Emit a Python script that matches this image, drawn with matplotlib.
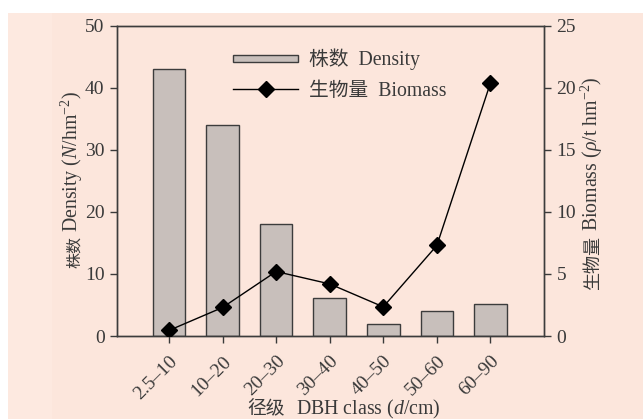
import matplotlib
matplotlib.use("Agg")
import matplotlib.pyplot as plt
import matplotlib.patches as mpatches
from matplotlib.lines import Line2D
from matplotlib.legend_handler import HandlerPatch
import numpy as np

categories = ["2.5–10", "10–20", "20–30", "30–40", "40–50", "50–60", "60–90"]
density = [43.0, 34.0, 18.0, 6.2, 2.0, 4.1, 5.1]
biomass = [0.45, 2.3, 5.2, 4.2, 2.35, 7.3, 20.4]

plt.rcParams['font.family'] = ['Liberation Serif', 'Noto Sans CJK SC']
plt.rcParams['mathtext.fontset'] = 'custom'
plt.rcParams['mathtext.rm'] = 'Liberation Serif'
plt.rcParams['mathtext.it'] = 'Liberation Serif:italic'

W, H = 643, 419
txt = '#3a3a3a'
pink = '#fce6dc'
pink_light = '#fde9e0'
barc = '#c8bfbb'
edge = '#3c3c3c'
CJK = 'Noto Sans CJK SC'

fig = plt.figure(figsize=(W / 100, H / 100), dpi=100)
fig.patch.set_facecolor('white')

def fx(px):
    return px / W

def fy(py):
    return (H - py) / H

fig.patches.append(mpatches.Rectangle((fx(8), 0), 1, (H - 13) / H, transform=fig.transFigure,
                                      facecolor=pink, edgecolor='none', zorder=-10))
fig.patches.append(mpatches.Rectangle((fx(8), 0), (52 - 8) / W, (H - 13) / H, transform=fig.transFigure,
                                      facecolor=pink_light, edgecolor='none', zorder=-9))

ax = fig.add_axes([fx(117), fy(336), (544 - 117) / W, (336 - 26) / H])
ax.set_facecolor('none')
x = np.arange(len(categories))
ax.bar(x, density, width=0.61, color=barc, edgecolor=edge, linewidth=1.0, zorder=2)
ax.set_xlim(-0.97, 7.0)
ax.set_ylim(0, 50)
ax.set_yticks([0, 10, 20, 30, 40, 50])
ax.set_xticks(x)
ax.set_xticklabels(categories, rotation=45, ha='right', va='top', rotation_mode='anchor',
                   fontsize=14, color=txt)
ax.tick_params(axis='y', labelsize=14, colors=txt, direction='out', length=5, width=1, pad=4)
ax.tick_params(axis='x', colors=txt, direction='out', length=5, width=1, pad=7)
for s in ax.spines.values():
    s.set_color(edge)
    s.set_linewidth(1.0)

ax2 = ax.twinx()
ax2.set_ylim(0, 25)
ax2.set_yticks([0, 5, 10, 15, 20, 25])
ax2.plot(x, biomass, color='black', linewidth=1.0, marker='D', markersize=8,
         markerfacecolor='black', markeredgecolor='black', zorder=3)
ax2.tick_params(axis='y', labelsize=14, colors=txt, direction='out', length=5, width=1, pad=4)
for s in ax2.spines.values():
    s.set_color(edge)
    s.set_linewidth(1.0)

# Axis labels: CJK part and Latin part as adjacent texts
lat = 14.3
# left y label
fig.text(fx(78), fy(232), 'Density ($\\it{N}$/hm$^{-2}$)', rotation=90, rotation_mode='anchor',
         ha='left', va='baseline', fontsize=lat, color=txt)
fig.text(fx(79), fy(236), '株数', rotation=90, rotation_mode='anchor',
         ha='right', va='baseline', fontsize=11.5, color=txt, family=CJK)
# right y label
fig.text(fx(598), fy(231), 'Biomass ($\\it{ρ}$/t hm$^{-2}$)', rotation=90, rotation_mode='anchor',
         ha='left', va='baseline', fontsize=lat, color=txt)
fig.text(fx(598), fy(236), '生物量', rotation=90, rotation_mode='anchor',
         ha='right', va='baseline', fontsize=13, color=txt, family=CJK)
# x label
fig.text(fx(296), fy(414), 'DBH class ($\\it{d}$/cm)', ha='left', va='baseline',
         fontsize=lat, color=txt)
fig.text(fx(285), fy(414), '径级', ha='right', va='baseline', fontsize=13.5, color=txt, family=CJK)

def thin_patch(legend, orig_handle, xdescent, ydescent, width, height, fontsize):
    h = height * 0.5
    return mpatches.Rectangle((-xdescent, -ydescent + (height - h) / 2), width, h)

bar_handle = mpatches.Patch(facecolor=barc, edgecolor=edge, linewidth=1.0)
line_handle = Line2D([], [], color='black', linewidth=1.0, marker='D', markersize=8)
leg = ax2.legend([bar_handle, line_handle], ['株数  Density', '生物量  Biomass'],
                 loc='upper left', bbox_to_anchor=(0.23, 0.985), frameon=False, fontsize=14.2,
                 handlelength=3.3, handletextpad=0.55, labelspacing=0.62,
                 handler_map={mpatches.Patch: HandlerPatch(patch_func=thin_patch)})
for t in leg.get_texts():
    t.set_color(txt)

fig.savefig('out.png', dpi=100, facecolor=fig.get_facecolor())
